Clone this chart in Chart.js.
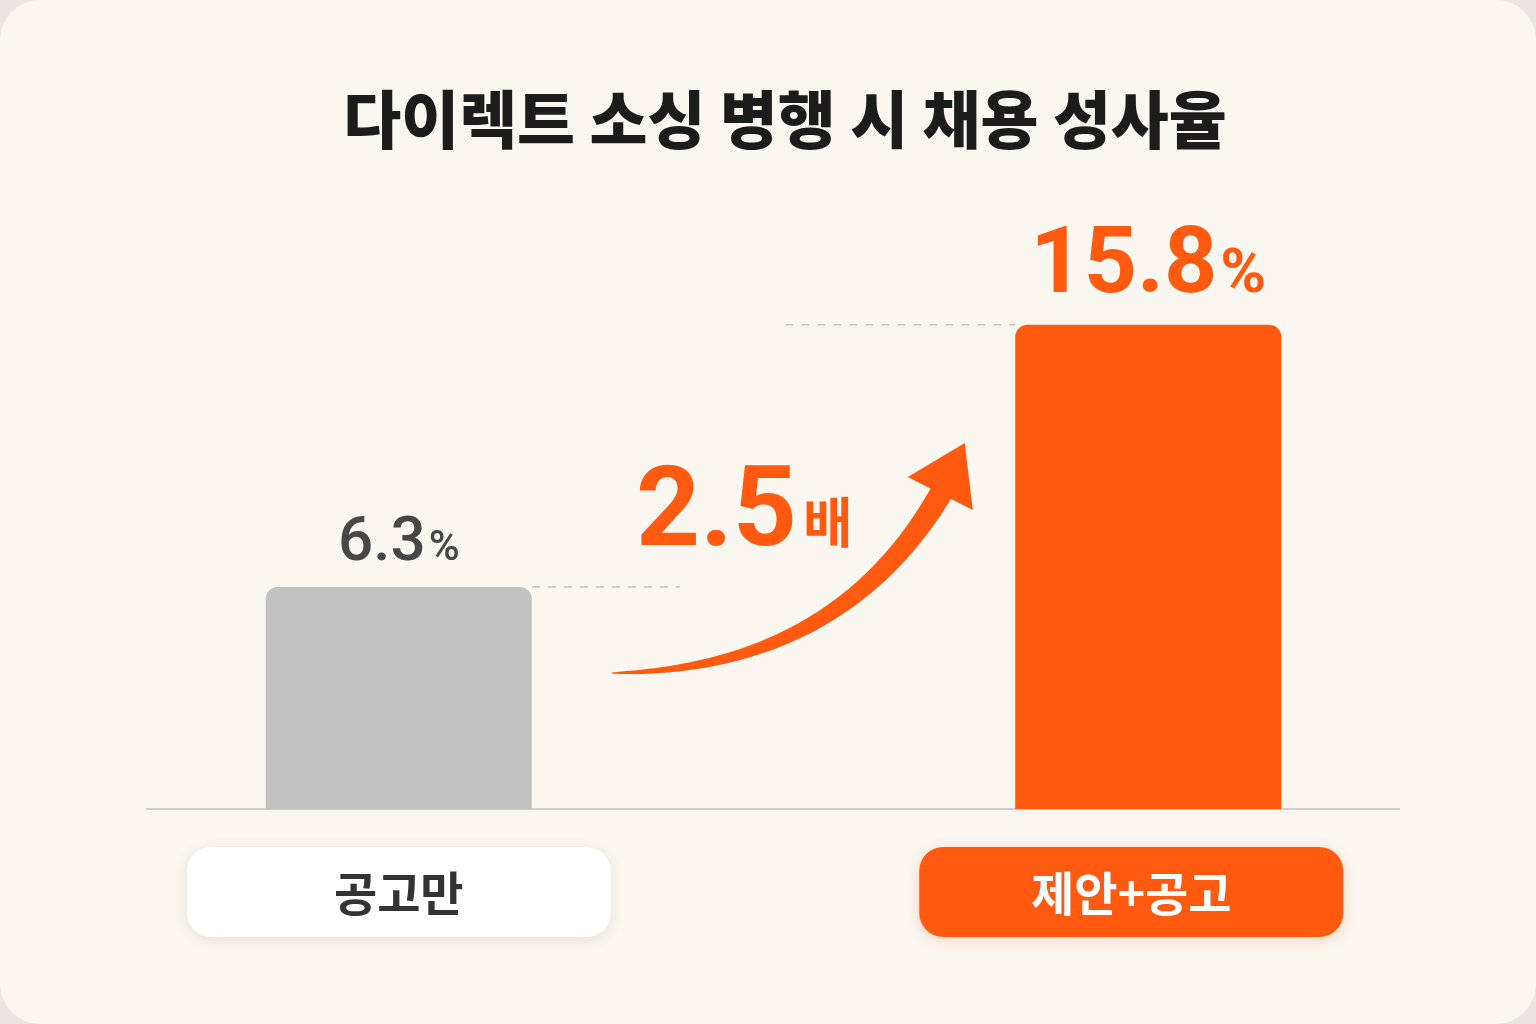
<!DOCTYPE html>
<html lang="ko">
<head>
<meta charset="utf-8">
<script src="https://cdn.jsdelivr.net/npm/chart.js@4/dist/chart.umd.min.js"></script>
<style>
  html, body { margin: 0; padding: 0; background: #ebe6e1; }
  canvas { display: block; }
</style>
</head>
<body>
<canvas id="chart" width="1536" height="1024"></canvas>
<script>
// chart data
const title = "다이렉트 소싱 병행 시 채용 성사율";
const categories = ["공고만", "제안+공고"];
const rates = [6.3, 15.8];
const ratio = "2.5";
const ratioUnit = "배";

const GRAY = "#c2c2c2";
const ORANGE = "#ff5a10";
const barColors = [GRAY, ORANGE];
const pillFill = ["#ffffff", ORANGE];
const pillText = ["#333333", "#ffffff"];
const pillShift = [0, -17];
const KR = '"Noto Sans CJK KR", "Noto Sans", sans-serif';
const NUM = 'Roboto, "Noto Sans", sans-serif';

// draws value text with a smaller "%" next to it, centered on cx
function drawPercent(ctx, value, cx, baseY, bigSize, smallSize, color, weight) {
  const num = value.toFixed(1);
  ctx.font = `${weight} ${bigSize}px ${NUM}`;
  const w1 = ctx.measureText(num).width;
  ctx.font = `${weight} ${smallSize}px ${NUM}`;
  const w2 = ctx.measureText("%").width;
  const x0 = cx - (w1 + w2 + 3) / 2;
  ctx.fillStyle = color;
  ctx.textAlign = "left";
  ctx.textBaseline = "alphabetic";
  ctx.font = `${weight} ${bigSize}px ${NUM}`;
  ctx.fillText(num, x0, baseY);
  ctx.font = `${weight} ${smallSize}px ${NUM}`;
  ctx.fillText("%", x0 + w1 + 3, baseY);
}

const decorations = {
  id: "decorations",
  beforeDraw(chart) {
    const ctx = chart.ctx;
    const { left, right, bottom } = chart.chartArea;
    ctx.save();
    ctx.fillStyle = "#ebe6e1";
    ctx.fillRect(0, 0, chart.width, chart.height);
    ctx.fillStyle = "#faf6f0";
    ctx.beginPath();
    ctx.roundRect(0, 0, chart.width, chart.height, 40);
    ctx.fill();

    // baseline
    ctx.strokeStyle = GRAY;
    ctx.lineWidth = 1.5;
    ctx.beginPath();
    ctx.moveTo(left + 122, bottom);
    ctx.lineTo(right - 123, bottom);
    ctx.stroke();
    ctx.restore();
  },
  afterDatasetsDraw(chart) {
    const ctx = chart.ctx;
    const bars = chart.getDatasetMeta(0).data;
    const b1 = bars[0], b2 = bars[1];
    ctx.save();

    // title
    ctx.fillStyle = "#1c1c1c";
    ctx.font = `900 63px ${KR}`;
    ctx.textAlign = "center";
    ctx.textBaseline = "middle";
    ctx.fillText(title, 785, 119);

    // dashed guide lines at bar tops
    ctx.strokeStyle = "#c9c6c2";
    ctx.lineWidth = 1.5;
    ctx.setLineDash([8, 8]);
    ctx.beginPath();
    ctx.moveTo(b1.x + b1.width / 2, b1.y);
    ctx.lineTo(b1.x + b1.width / 2 + 148, b1.y);
    ctx.moveTo(b2.x - b2.width / 2 - 230, b2.y);
    ctx.lineTo(b2.x - b2.width / 2, b2.y);
    ctx.stroke();
    ctx.setLineDash([]);

    // value labels
    drawPercent(ctx, rates[0], b1.x, b1.y - 27, 62, 42, "#474747", 500);
    drawPercent(ctx, rates[1], b2.x, b2.y - 33, 93, 62, ORANGE, 700);

    // curved arrow between the bars
    const p0 = { x: b1.x + 213, y: 673 };
    const c1 = { x: b1.x + 440, y: 670 };
    const p2 = { x: b1.x + 543, y: 492 };
    const leftSide = [], rightSide = [];
    const N = 60;
    for (let i = 0; i <= N; i++) {
      const t = i / N;
      const x = (1 - t) * (1 - t) * p0.x + 2 * (1 - t) * t * c1.x + t * t * p2.x;
      const y = (1 - t) * (1 - t) * p0.y + 2 * (1 - t) * t * c1.y + t * t * p2.y;
      const dx = 2 * (1 - t) * (c1.x - p0.x) + 2 * t * (p2.x - c1.x);
      const dy = 2 * (1 - t) * (c1.y - p0.y) + 2 * t * (p2.y - c1.y);
      const len = Math.hypot(dx, dy);
      const nx = -dy / len, ny = dx / len;
      const w = (1 + 22 * Math.pow(t, 0.7)) / 2;
      leftSide.push([x + nx * w, y + ny * w]);
      rightSide.push([x - nx * w, y - ny * w]);
    }
    ctx.fillStyle = ORANGE;
    ctx.beginPath();
    leftSide.forEach(([x, y], i) => (i ? ctx.lineTo(x, y) : ctx.moveTo(x, y)));
    rightSide.reverse().forEach(([x, y]) => ctx.lineTo(x, y));
    ctx.closePath();
    ctx.fill();
    ctx.beginPath();
    ctx.moveTo(b1.x + 566, 443);
    ctx.lineTo(b1.x + 509, 477);
    ctx.lineTo(b1.x + 574, 510);
    ctx.closePath();
    ctx.fill();

    // ratio text
    ctx.textAlign = "left";
    ctx.textBaseline = "alphabetic";
    ctx.font = `700 112px ${NUM}`;
    const rw = ctx.measureText(ratio).width;
    const rx = 636;
    ctx.fillText(ratio, rx, 545);
    ctx.font = `700 54px ${KR}`;
    ctx.fillText(ratioUnit, rx + rw + 6, 543);

    // category pills
    bars.forEach((bar, i) => {
      const cx = bar.x + pillShift[i];
      const w = 424, h = 90, top = 847;
      ctx.save();
      ctx.shadowColor = i ? "rgba(255,90,16,0.22)" : "rgba(120,90,60,0.14)";
      ctx.shadowBlur = 14;
      ctx.shadowOffsetY = 3;
      ctx.fillStyle = pillFill[i];
      ctx.beginPath();
      ctx.roundRect(cx - w / 2, top, w, h, 24);
      ctx.fill();
      ctx.restore();
      ctx.fillStyle = pillText[i];
      ctx.font = `700 47px ${KR}`;
      ctx.textAlign = "center";
      ctx.textBaseline = "middle";
      ctx.fillText(categories[i], cx, top + h / 2 + 1);
    });

    ctx.restore();
  }
};

new Chart(document.getElementById("chart").getContext("2d"), {
  type: "bar",
  data: {
    labels: categories,
    datasets: [
      {
        data: rates,
        backgroundColor: barColors,
        base: -1.75,
        borderRadius: { topLeft: 12, topRight: 12, bottomLeft: 0, bottomRight: 0 },
        borderSkipped: false,
        barPercentage: 0.355,
        categoryPercentage: 1,
      },
    ],
  },
  options: {
    responsive: false,
    animation: false,
    layout: { padding: { left: 24, right: 13, top: 209, bottom: 215 } },
    scales: {
      x: { display: false },
      y: { display: false, min: -1.75, max: 20 },
    },
    plugins: {
      legend: { display: false },
      tooltip: { enabled: false },
      title: { display: false },
    },
  },
  plugins: [decorations],
});
</script>
</body>
</html>
